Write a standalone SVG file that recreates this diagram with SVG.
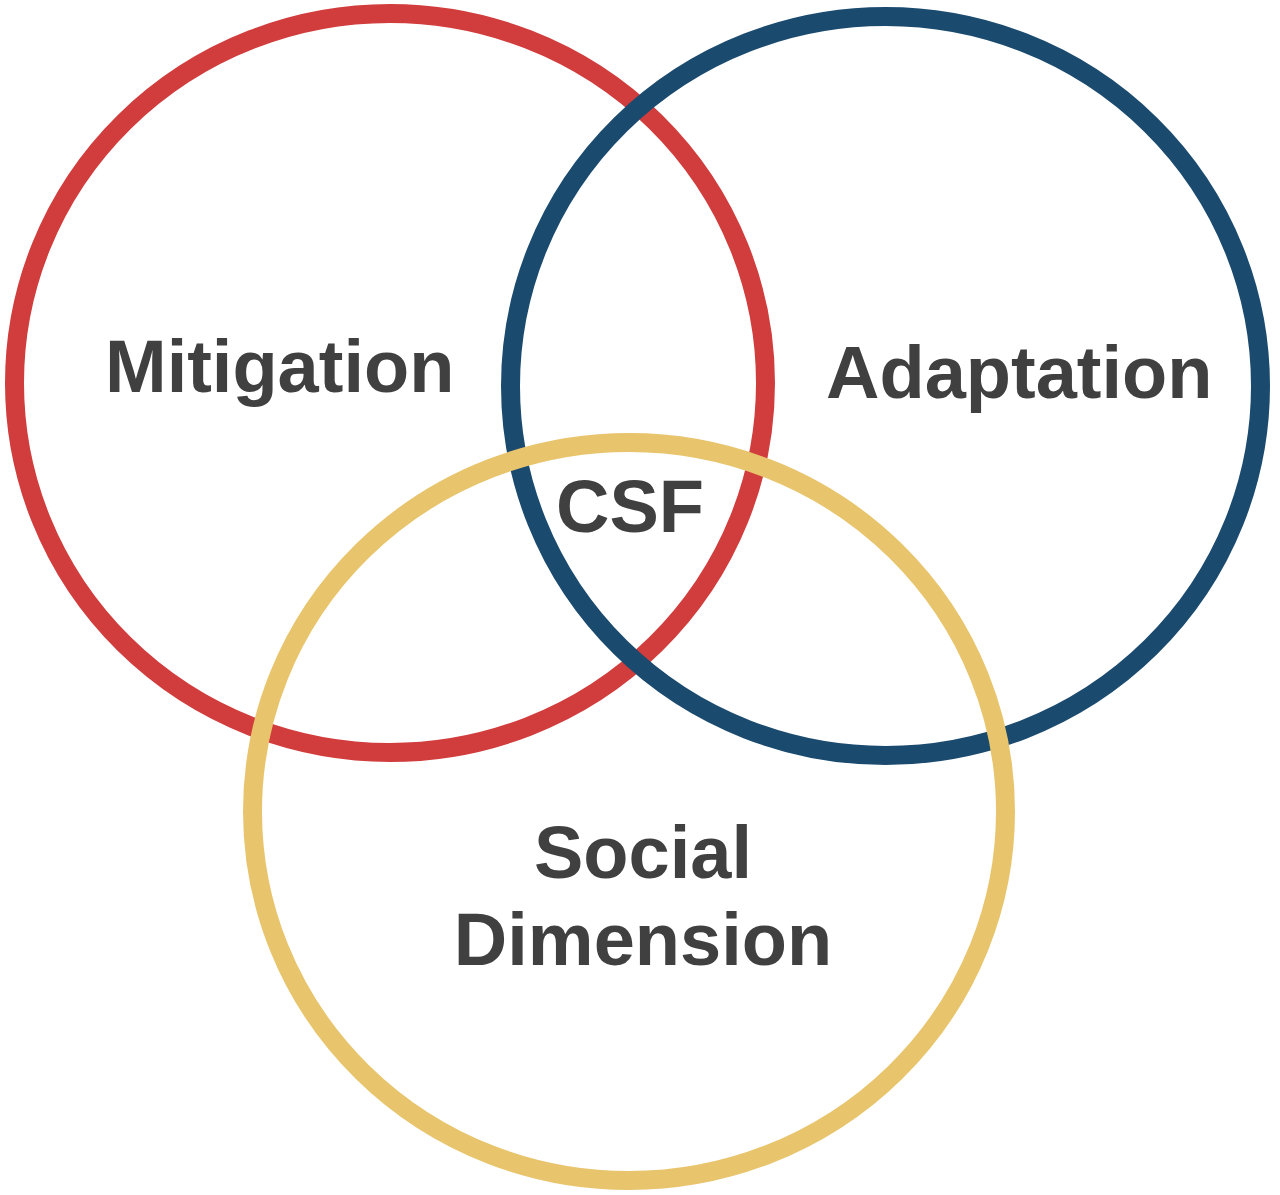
<svg xmlns="http://www.w3.org/2000/svg" width="1280" height="1195" viewBox="0 0 1280 1195">
<style>
.ring{fill:none;stroke-width:19}
.lbl{font-family:"Liberation Sans",Arial,sans-serif;font-weight:bold;font-size:74px;fill:#404040}
</style>
<rect width="1280" height="1195" fill="#ffffff"/>
<g id="mitigation">
<ellipse class="ring" cx="390" cy="383" rx="375.5" ry="369.5" stroke="#d13c3c"/>
<text class="lbl" x="105" y="392">Mitigation</text>
</g>
<g id="adaptation">
<ellipse class="ring" cx="885.5" cy="386" rx="375" ry="369.5" stroke="#1b4a6f"/>
<text class="lbl" x="826" y="398">Adaptation</text>
</g>
<g id="social">
<ellipse class="ring" cx="629" cy="811.5" rx="376.5" ry="369" stroke="#e8c46c"/>
<text class="lbl" x="643" y="878" text-anchor="middle">Social</text>
<text class="lbl" x="643" y="965" text-anchor="middle">Dimension</text>
</g>
<g id="csf">
<text class="lbl" x="630" y="532" text-anchor="middle">CSF</text>
</g>
<g id="connectors"></g>
</svg>
